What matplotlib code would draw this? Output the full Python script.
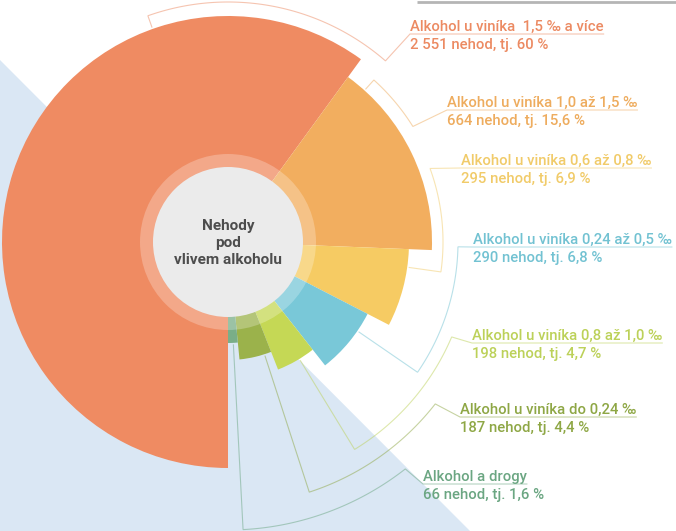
import numpy as np
import matplotlib.pyplot as plt
from matplotlib.patches import Wedge, Circle, Polygon

plt.rcParams['font.family'] = ['Roboto', 'DejaVu Sans']

# data
labels = ["Alkohol u viníka  1,5 ‰ a více", "Alkohol u viníka 1,0 až 1,5 ‰",
          "Alkohol u viníka 0,6 až 0,8 ‰", "Alkohol u viníka 0,24 až 0,5 ‰",
          "Alkohol u viníka 0,8 až 1,0 ‰", "Alkohol u viníka do 0,24 ‰",
          "Alkohol a drogy"]
counts = [2551, 664, 295, 290, 198, 187, 66]
shares = ["60", "15,6", "6,9", "6,8", "4,7", "4,4", "1,6"]
center_title = "Nehody\npod\nvlivem alkoholu"

# styling / layout
sector_colors = ["#ef8b62", "#f2ae5f", "#f6cb63", "#79c8d8", "#c5d855", "#9bb24b", "#7aae88"]
label_colors = ["#ec8a62", "#eeac5e", "#f1cb69", "#72c2d2", "#bcd159", "#8ea745", "#6ba682"]
outer_r = [226, 204, 181, 157, 137, 118, 101]
leader_tick = [109.5, 48, -8, -34.5, -58.6, -72, -87]
leader_r = [240, 218, 215, 230, 243, 263, 288]
leader_end = [49, 32, 20, -1.2, -23, -38, -52]
underline_y = [34, 110, 168, 247, 343, 417, 484]
text_x = [410, 447, 461, 473, 472, 460, 423]

W, H = 676, 531
cx, cy = 228, 242

fig = plt.figure(figsize=(W / 100, H / 100), dpi=100)
ax = fig.add_axes([0, 0, 1, 1])
ax.set_xlim(0, W)
ax.set_ylim(H, 0)
ax.set_aspect('equal')
ax.axis('off')


def pt(ang, r):
    # screen angle (ccw, degrees) -> pixel coords with y pointing down
    a = np.deg2rad(ang)
    return cx + r * np.cos(a), cy - r * np.sin(a)


# background
ax.add_patch(Polygon([(0, 60), (470, H), (0, H)], closed=True, color="#dae7f4", lw=0, zorder=0))
ax.plot([417, W], [1.5, 1.5], color="#b5b5b5", lw=2, zorder=0, solid_capstyle='butt')

# sectors: clockwise from the bottom
total = sum(counts)
start = 270.0
for i, c in enumerate(counts):
    span = c / total * 360
    t2 = start
    t1 = start - span
    # y axis is inverted, so screen angles are negated
    ax.add_patch(Wedge((cx, cy), outer_r[i], -t2, -t1, color=sector_colors[i], lw=0, zorder=2))
    start = t1

ax.add_patch(Circle((cx, cy), 88, color="white", alpha=0.25, lw=0, zorder=3))
ax.add_patch(Circle((cx, cy), 75, color="#ebebeb", lw=0, zorder=4))
ax.text(cx, cy + 1, center_title, ha='center', va='center', fontsize=11, fontweight='bold',
        color="#4d4d4d", linespacing=1.25, zorder=5)

fig.canvas.draw()
renderer = fig.canvas.get_renderer()

for i in range(len(counts)):
    col = label_colors[i]
    t1 = ax.text(text_x[i], underline_y[i] - 3, labels[i], fontsize=10.7, color=col,
                 fontweight='medium', ha='left', va='baseline', zorder=5)
    nums = f"{counts[i]:,}".replace(",", " ")
    ax.text(text_x[i], underline_y[i] + 15, f"{nums} nehod, tj. {shares[i]} %", fontsize=10.7,
            fontweight='medium', color=col, ha='left', va='baseline', zorder=5)
    bb = t1.get_window_extent(renderer=renderer)
    x_end = ax.transData.inverted().transform((bb.x1, bb.y0))[0]

    # leader: radial tick, arc, kink, underline
    x0, y0 = pt(leader_tick[i], outer_r[i] + 2)
    x1, y1 = pt(leader_tick[i], leader_r[i])
    angs = np.linspace(leader_tick[i], leader_end[i], 80)
    ax_, ay_ = pt(angs, leader_r[i])
    xs = [x0, x1] + list(ax_) + [text_x[i], min(x_end, W)]
    ys = [y0, y1] + list(ay_) + [underline_y[i], underline_y[i]]
    ax.plot(xs, ys, color=col, lw=0.8, alpha=0.5, zorder=1, solid_joinstyle='miter')

fig.savefig("out.png", dpi=100)
